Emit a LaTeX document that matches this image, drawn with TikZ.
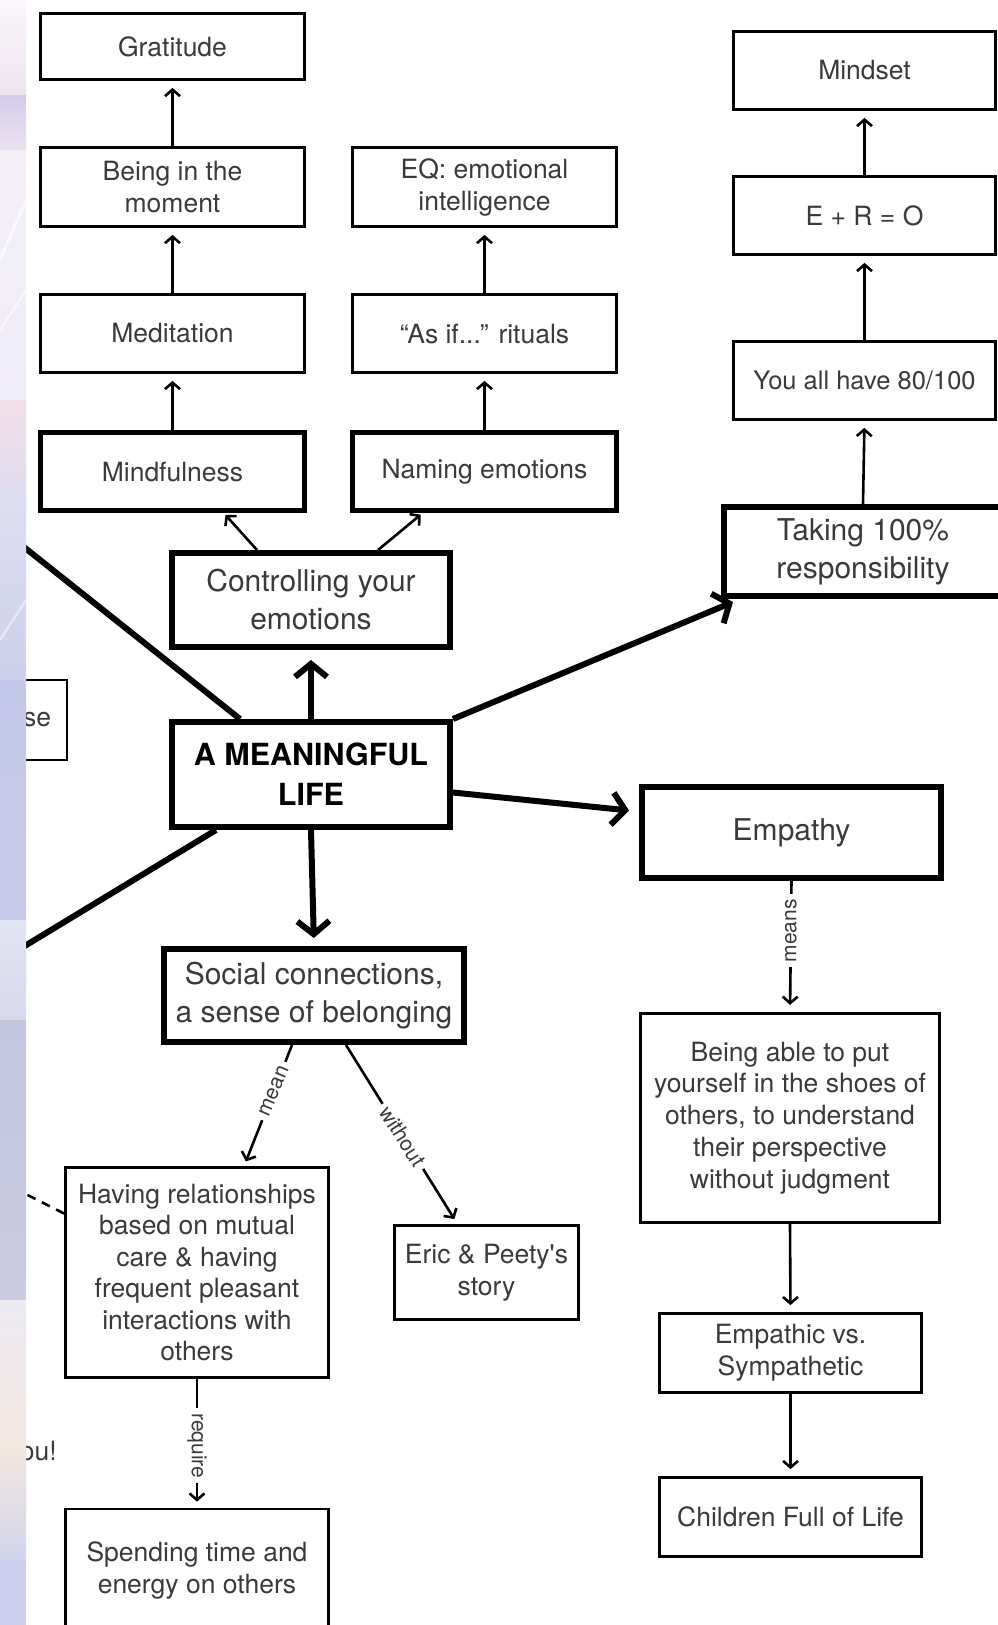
\documentclass[tikz,border=0pt]{standalone}
\usepackage{fontspec}
\setmainfont{TeX Gyre Heros}
\usetikzlibrary{arrows.meta,calc}
\definecolor{txt}{RGB}{58,58,58}
\definecolor{sA}{RGB}{250,246,250}
\definecolor{sB}{RGB}{238,228,240}
\definecolor{sC}{RGB}{212,204,236}
\definecolor{sD}{RGB}{235,225,240}
\definecolor{sE}{RGB}{245,240,248}
\definecolor{sF}{RGB}{238,236,248}
\definecolor{sG}{RGB}{242,222,232}
\definecolor{sH}{RGB}{225,220,240}
\definecolor{sI}{RGB}{222,222,242}
\definecolor{sJ}{RGB}{205,208,236}
\definecolor{sK}{RGB}{196,200,232}
\definecolor{sL}{RGB}{200,203,232}
\definecolor{sM}{RGB}{226,228,242}
\definecolor{sN}{RGB}{215,216,236}
\definecolor{sO}{RGB}{196,198,224}
\definecolor{sP}{RGB}{202,202,226}
\definecolor{sQ}{RGB}{236,234,242}
\definecolor{sR}{RGB}{244,232,226}
\definecolor{sS}{RGB}{245,232,222}
\definecolor{sT}{RGB}{210,212,236}
\begin{document}
\begin{tikzpicture}[x=1pt,y=-1pt,
  box/.style={draw=black, line width=2.8pt, text=txt, align=center, inner sep=0pt,
    font=\fontsize{26.5}{32}\selectfont},
  mbox/.style={box, line width=4.5pt},
  tbox/.style={box, line width=6pt, font=\fontsize{30}{38}\selectfont},
  smallarrow/.style={line width=2.6pt, -{Straight Barb[length=6.5pt,width=15pt]}, shorten >=7pt},
  bigarrow/.style={line width=6pt, -{Straight Barb[length=13pt,width=32pt]}},
  bigline/.style={line width=6pt},
  elabel/.style={fill=white, text=txt, inner xsep=5pt, inner ysep=1pt, font=\fontsize{21}{21}\selectfont}
]
\useasboundingbox (0,0) rectangle (998,1625);
\clip (0,0) rectangle (998,1625);
\fill[white] (0,0) rectangle (998,1625);

% left column
\node[box, minimum width=264pt, minimum height=66pt] (grat) at (172.5,46.5) {Gratitude};
\node[box, minimum width=264pt, minimum height=79pt] (being) at (172.5,187) {Being in the\\moment};
\node[box, minimum width=264pt, minimum height=78pt] (medit) at (172.5,333.5) {Meditation};
\node[mbox, minimum width=264pt, minimum height=78pt] (mindf) at (172.5,471.5) {Mindfulness};
% middle column
\node[box, minimum width=264pt, minimum height=79pt] (eq) at (484.5,187) {EQ: emotional\\intelligence};
\node[box, minimum width=264pt, minimum height=78pt] (asif) at (484.5,333.5) {“As if...” rituals};
\node[mbox, minimum width=264pt, minimum height=78pt] (naming) at (484.5,471.5) {Naming emotions};
% right column
\node[box, minimum width=262pt, minimum height=78pt] (mindset) at (864.5,70.5) {Mindset};
\node[box, minimum width=262pt, minimum height=78pt] (ero) at (864.5,215.5) {E + R = O};
\node[box, minimum width=262pt, minimum height=78pt, font=\fontsize{25.5}{32}\selectfont] (youall) at (864.5,380.5) {You all have 80/100};
\node[tbox, minimum width=278pt, minimum height=89pt] (taking) at (863,551.5) {Taking 100\%\\responsibility};
% center
\node[tbox, minimum width=278pt, minimum height=94pt] (ctrl) at (311,600) {Controlling your\\emotions};
\node[tbox, minimum width=278pt, minimum height=105pt, text=black,
  font=\bfseries\fontsize{30.5}{40}\selectfont] (life) at (311,774.5) {A MEANINGFUL\\LIFE};
\node[box, line width=2.5pt, minimum width=134pt, minimum height=80pt, text width=102pt, align=right] (se) at (0,720) {se};
\node[tbox, minimum width=299pt, minimum height=91pt] (empathy) at (791.5,832.5) {Empathy};
\node[tbox, minimum width=300pt, minimum height=93pt] (social) at (314,995.5) {Social connections,\\a sense of belonging};
\node[box, line width=3.3pt, minimum width=299pt, minimum height=209pt,
  font=\fontsize{26.5}{31.8}\selectfont] (able) at (790,1118) {Being able to put\\yourself in the shoes of\\others, to understand\\their perspective\\without judgment};
\node[box, minimum width=263pt, minimum height=210pt, font=\fontsize{26.5}{31.5}\selectfont] (having) at (197,1272.5) {Having relationships\\based on mutual\\care \& having\\frequent pleasant\\interactions with\\others};
\node[box, minimum width=184pt, minimum height=94pt] (eric) at (486.5,1272.5) {Eric \& Peety\textquotesingle s\\story};
\node[box, minimum width=262pt, minimum height=79pt] (empathic) at (790.5,1353) {Empathic vs.\\Sympathetic};
\node[box, minimum width=262pt, minimum height=79pt] (children) at (790.5,1517) {Children Full of Life};
\node[box, minimum width=263pt, minimum height=122pt] (spending) at (197,1570) {Spending time and\\energy on others};
\node[text=txt, inner sep=0pt, anchor=east, font=\fontsize{26.5}{32}\selectfont] (you) at (57,1451) {ou!};

\coordinate (upleft) at (0,528);
\coordinate (downleft) at (0,961);
\coordinate (dashend) at (0,1181);

% thin arrows
\draw[smallarrow] (being.north) -- (grat.south);
\draw[smallarrow] (medit.north) -- (being.south);
\draw[smallarrow] (mindf.north) -- (medit.south);
\draw[smallarrow] (asif.north) -- (eq.south);
\draw[smallarrow] (naming.north) -- (asif.south);
\draw[smallarrow] (ero.north) -- (mindset.south);
\draw[smallarrow] (youall.north) -- (ero.south);
\draw[smallarrow] (taking.north) -- (youall.south);
\draw[smallarrow, shorten >=3pt] ($(ctrl.north)+(-54,0)$) -- ($(mindf.south)+(51,0)$);
\draw[smallarrow, shorten >=3pt] ($(ctrl.north)+(67,0)$) -- ($(naming.south)+(-61.5,0)$);

% thick connectors
\draw[bigarrow, shorten >=10pt] (life.north) -- (ctrl.south);
\draw[bigarrow, shorten >=8pt] (life.south) -- (social.north);
\draw[bigarrow] (life.north east) -- ($(taking.south west)+(12,3)$);
\draw[bigarrow, shorten >=10pt] ($(life.east)+(0,18)$) -- ($(empathy.west)+(0,-21)$);
\draw[bigline] ($(life.north)+(-71,0)$) -- (upleft);
\draw[bigline] ($(life.south)+(-95,0)$) -- (downleft);

% labelled links
\draw[smallarrow] (empathy.south) -- node[elabel, rotate=90, pos=0.38] {means} (able.north);
\draw[smallarrow, shorten >=5pt] ($(social.south)+(-22,0)$) -- node[elabel, rotate=67, pos=0.38] {mean} ($(having.north)+(47,0)$);
\draw[smallarrow, shorten >=6pt] ($(social.south)+(32,0)$) -- node[elabel, rotate=-58, pos=0.51] {without} ($(eric.north)+(-29,0)$);
\draw[smallarrow, shorten >=6pt] (having.south) -- node[elabel, rotate=-90, pos=0.52] {require} (spending.north);
\draw[smallarrow] (able.south) -- (empathic.north);
\draw[smallarrow] (empathic.south) -- (children.north);
\draw[line width=2.6pt, dash pattern=on 9pt off 7pt] ($(having.west)+(0,-59)$) -- (dashend);

% left background strip
\shade[top color=sA, bottom color=sB] (0,0) rectangle (26,95);
\shade[top color=sC, bottom color=sD] (0,95) rectangle (26,150);
\shade[top color=sE, bottom color=sF] (0,150) rectangle (26,400);
\shade[top color=sG, bottom color=sH] (0,400) rectangle (26,490);
\shade[top color=sI, bottom color=sJ] (0,490) rectangle (26,680);
\shade[top color=sK, bottom color=sL] (0,680) rectangle (26,920);
\shade[top color=sM, bottom color=sN] (0,920) rectangle (26,1020);
\shade[top color=sO, bottom color=sP] (0,1020) rectangle (26,1300);
\shade[top color=sQ, bottom color=sR] (0,1300) rectangle (26,1440);
\shade[top color=sS, bottom color=sT] (0,1440) rectangle (26,1560);
\fill[sJ] (0,1560) rectangle (26,1625);
\draw[white, line width=3pt, opacity=0.6] (0,260) -- (26,200);
\draw[white, line width=2pt, opacity=0.6] (0,330) -- (26,290);
\draw[white, line width=2pt, opacity=0.5] (0,640) -- (26,600);
\end{tikzpicture}
\end{document}
